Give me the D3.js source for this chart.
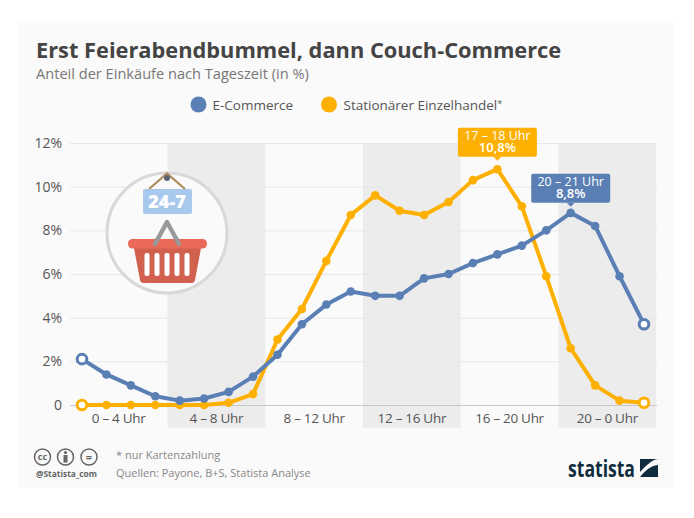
<!DOCTYPE html>
<html>
<head>
<meta charset="utf-8">
<script src="https://cdnjs.cloudflare.com/ajax/libs/d3/7.8.5/d3.min.js"></script>
<style>
html,body{margin:0;padding:0;background:#fff;}
text{font-family:"Open Sans",sans-serif;}
.axis path{display:none;}
.axis line{stroke:#e8e8e8;}
</style>
</head>
<body>
<div id="gt"></div>
<script>
var slots = ["0","1","2","3","4","5","6","7","8","9","10","11","12","13","14","15","16","17","18","19","20","21","22","23"];
var ecommerce = [2.1,1.4,0.9,0.4,0.2,0.3,0.6,1.3,2.3,3.7,4.6,5.2,5.0,5.0,5.8,6.0,6.5,6.9,7.3,8.0,8.8,8.2,5.9,3.7];
var stationaer = [0,0,0,0,0,0,0.1,0.5,3.0,4.4,6.6,8.7,9.6,8.9,8.7,9.3,10.3,10.8,9.1,5.9,2.6,0.9,0.2,0.1];
var periods = ["0 – 4 Uhr","4 – 8 Uhr","8 – 12 Uhr","12 – 16 Uhr","16 – 20 Uhr","20 – 0 Uhr"];
var yTicks = [0,2,4,6,8,10,12];

var blue = "#5a7fb5", orange = "#fdb000";

var svg = d3.select("#gt")
    .append('svg')
    .attr('width',694)
    .attr('height',518)
    .style('display','block');

// slot positions, one step per hour
var x = d3.scalePoint().domain(slots).range([82,644]);
var step = x.step();
var y = d3.scaleLinear().domain([0,12]).range([405,143]);

svg.append('rect').attr('x',18).attr('y',21).attr('width',656).attr('height',467).attr('fill','#fafafa');

svg.append('text').attr('x',36).attr('y',58).attr('fill','#444')
    .style('font-size','21.8px').style('font-weight',700)
    .text('Erst Feierabendbummel, dann Couch-Commerce');
svg.append('text').attr('x',36).attr('y',79).attr('fill','#777')
    .style('font-size','14.6px')
    .text('Anteil der Einkäufe nach Tageszeit (in %)');

// legend
svg.append('circle').attr('cx',198.5).attr('cy',104.5).attr('r',8).attr('fill',blue);
svg.append('text').attr('x',212.5).attr('y',109.5).attr('fill','#555').style('font-size','13.5px').text('E-Commerce');
svg.append('circle').attr('cx',329).attr('cy',104.5).attr('r',8).attr('fill',orange);
var legendText = svg.append('text').attr('x',343.5).attr('y',109.5).attr('fill','#555').style('font-size','13.5px').text('Stationärer Einzelhandel');
legendText.append('tspan').attr('dy',-3).style('font-size','9px').text('*');

// every second period is shaded
periods.forEach(function(p,i){
    var first = slots[i*4];
    var left = x(first)-step/2;
    if(i%2==1){
        svg.append('rect').attr('x',left).attr('y',143).attr('width',step*4).attr('height',285).attr('fill','#ececec');
    }
    svg.append('text').attr('x',left+step*2).attr('y',422.5).attr('text-anchor','middle')
        .attr('fill','#555').style('font-size','13.5px').style('letter-spacing','-0.3px').text(p);
});

svg.append('g')
    .attr('class','axis')
    .attr('transform','translate(70,0)')
    .call(d3.axisRight(y).tickValues(yTicks).tickSize(587).tickFormat(function(d){return ''}));
svg.selectAll('.axis .tick').filter(function(d){return d==0}).select('line').style('stroke','#c8c8c8');

svg.selectAll('.ylabel')
    .data(yTicks)
    .enter()
    .append('text')
    .attr('class','ylabel')
    .attr('x',62)
    .attr('y',function(d){return y(d)+5})
    .attr('text-anchor','end')
    .attr('fill','#555')
    .style('font-size','14px')
    .text(function(d){return d==0 ? '0' : d+'%'});

drawBasket();

function draw_line(values,color){
    var line = d3.line()
        .x(function(d,i){return x(slots[i])})
        .y(function(d){return y(d)});
    var g = svg.append('g');
    g.append('path')
        .attr('d',line(values))
        .attr('stroke',color)
        .attr('stroke-width',4)
        .attr('stroke-linejoin','round')
        .attr('fill','none');
    g.selectAll('circle')
        .data(values)
        .enter()
        .append('circle')
        .attr('cx',function(d,i){return x(slots[i])})
        .attr('cy',function(d){return y(d)})
        .attr('r',function(d,i){return (i==0||i==values.length-1) ? 4.8 : 4.3})
        .attr('fill',function(d,i){return (i==0||i==values.length-1) ? '#fff' : color})
        .attr('stroke',function(d,i){return (i==0||i==values.length-1) ? color : 'none'})
        .attr('stroke-width',3);
}
draw_line(stationaer,orange);
draw_line(ecommerce,blue);

function callout(values,i,color,label,gap){
    var cx = x(slots[i]), py = y(values[i]);
    var bottom = py-gap, g = svg.append('g');
    g.append('rect').attr('x',cx-39.5).attr('y',bottom-29).attr('width',79).attr('height',29).attr('rx',2).attr('fill',color);
    g.append('path').attr('d','M'+(cx-4)+','+bottom+'L'+cx+','+(bottom+4)+'L'+(cx+4)+','+bottom+'Z').attr('fill',color);
    g.append('text').attr('x',cx).attr('y',bottom-17).attr('text-anchor','middle').attr('fill','#fff')
        .style('font-size','12.5px').text(label);
    g.append('text').attr('x',cx).attr('y',bottom-5).attr('text-anchor','middle').attr('fill','#fff')
        .style('font-size','13px').style('font-weight',600).text(d3.format('.1f')(values[i]).replace('.',',')+'%');
}
callout(stationaer,17,orange,'17 – 18 Uhr',12.5);
callout(ecommerce,20,blue,'20 – 21 Uhr',10);

// footer
[42.5,65.5,89].forEach(function(cx){
    svg.append('circle').attr('cx',cx).attr('cy',457).attr('r',8).attr('fill','none').attr('stroke','#666').attr('stroke-width',1.5);
});
svg.append('text').attr('x',42.5).attr('y',460).attr('text-anchor','middle').attr('fill','#666').style('font-size','9px').style('font-weight',700).text('cc');
svg.append('circle').attr('cx',65.5).attr('cy',452.5).attr('r',1.6).attr('fill','#666');
svg.append('rect').attr('x',63.5).attr('y',455).attr('width',4).attr('height',7.5).attr('fill','#666');
svg.append('text').attr('x',89).attr('y',461).attr('text-anchor','middle').attr('fill','#666').style('font-size','11px').style('font-weight',700).text('=');
svg.append('text').attr('x',36).attr('y',477).attr('fill','#666').style('font-size','8.4px').style('font-weight',700).text('@Statista_com');
svg.append('text').attr('x',116).attr('y',459).attr('fill','#888').style('font-size','11px').text('* nur Kartenzahlung');
svg.append('text').attr('x',116).attr('y',477).attr('fill','#888').style('font-size','11px').text('Quellen: Payone, B+S, Statista Analyse');

svg.append('text').attr('x',568).attr('y',477).attr('fill','#0f2c3f')
    .attr('textLength',67).attr('lengthAdjust','spacingAndGlyphs')
    .style('font-size','24px').style('font-weight',700).text('statista');
svg.append('rect').attr('x',640).attr('y',459).attr('width',18).attr('height',18).attr('fill','#0f2c3f');
svg.append('path').attr('d','M640,477C646,470 650,466 658,465L658,459C651,460 646,466 640,472Z').attr('fill','#fafafa');

function drawBasket(){
    var g = svg.append('g');
    g.append('circle').attr('cx',167).attr('cy',233).attr('r',60).attr('fill','#fafafa').attr('stroke','#d8d8d8').attr('stroke-width',3);
    g.append('path').attr('d','M149,189L167,173.5L185,189').attr('fill','none').attr('stroke','#b08a5a').attr('stroke-width',2.2);
    g.append('circle').attr('cx',167).attr('cy',178).attr('r',3).attr('fill','#5b6272');
    g.append('rect').attr('x',143).attr('y',189).attr('width',49).attr('height',25).attr('rx',2).attr('fill','#a9c8ee');
    g.append('text').attr('x',167).attr('y',208).attr('text-anchor','middle').attr('fill','#fff')
        .style('font-size','18px').style('font-weight',800).text('24-7');
    g.append('path').attr('d','M134,248H201L195,280Q194.5,283 191,283H144Q140.5,283 140,280Z').attr('fill','#d2604f');
    g.append('path').attr('d','M155,244L167,222L179,244').attr('fill','none').attr('stroke','#999').attr('stroke-width',4.5).attr('stroke-linecap','round').attr('stroke-linejoin','round');
    g.append('rect').attr('x',128).attr('y',239).attr('width',79).attr('height',9.5).attr('rx',4.5).attr('fill','#e96a58');
    // grey handle ends sit in front of the rim
    g.append('path').attr('d','M155,244L158,238.5M179,244L176,238.5').attr('stroke','#999').attr('stroke-width',4.5).attr('stroke-linecap','round');
    [147,157,167,177,187].forEach(function(sx){
        g.append('rect').attr('x',sx-2.5).attr('y',253).attr('width',5).attr('height',23).attr('rx',2).attr('fill','#fff');
    });
}
</script>
</body>
</html>
